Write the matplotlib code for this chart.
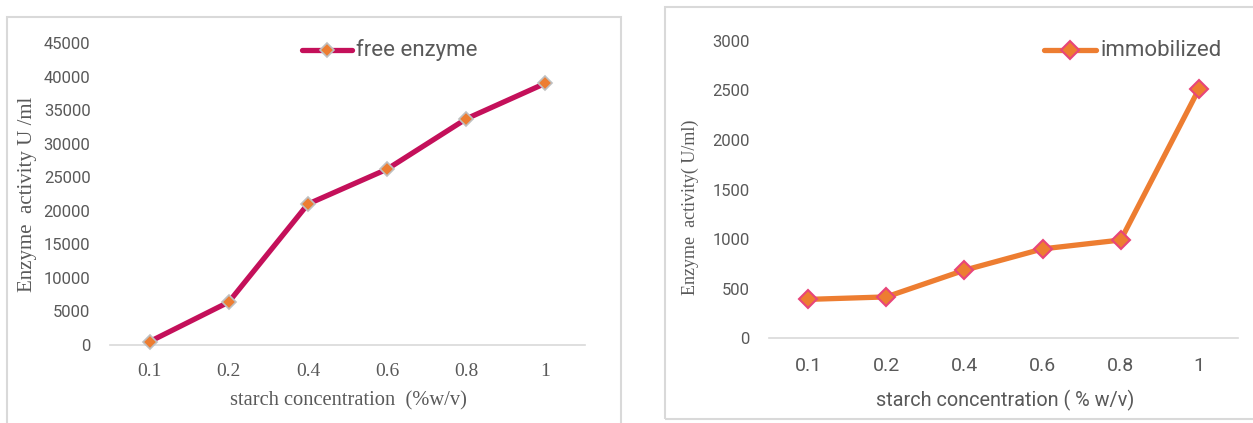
import matplotlib
matplotlib.use("Agg")
import matplotlib.pyplot as plt
from matplotlib.patches import Rectangle
from matplotlib.lines import Line2D

categories = ["0.1", "0.2", "0.4", "0.6", "0.8", "1"]
free_enzyme = [500, 6400, 21000, 26200, 33700, 39000]
immobilized = [390, 415, 685, 900, 990, 2515]
free_yticks = [0, 5000, 10000, 15000, 20000, 25000, 30000, 35000, 40000, 45000]
imm_yticks = [0, 500, 1000, 1500, 2000, 2500, 3000]

W, H = 1253, 423
fig = plt.figure(figsize=(W / 100, H / 100), dpi=100)

SANS = ["Liberation Sans Narrow", "Roboto", "DejaVu Sans"]
SERIF = ["Liberation Serif", "DejaVu Serif"]
GRAY = "#595959"


def px_axes(x0, y0, x1, y1):
    return fig.add_axes([x0 / W, 1 - y1 / H, (x1 - x0) / W, (y1 - y0) / H])


def frame(x0, y0, x1, y1):
    fig.patches.append(Rectangle((x0 / W, 1 - y1 / H), (x1 - x0) / W, (y1 - y0) / H,
                                 transform=fig.transFigure, fill=False,
                                 edgecolor="#d9d9d9", linewidth=1.5))


frame(7, 17, 621, 440)
frame(665, 7, 1260, 419)


def style(ax, yticks, top):
    x = list(range(len(categories)))
    ax.set_xlim(-0.5, len(categories) - 0.5)
    ax.set_ylim(0, top)
    ax.set_xticks(x)
    ax.set_yticks(yticks)
    for s in ["top", "right", "left"]:
        ax.spines[s].set_visible(False)
    ax.spines["bottom"].set_color("#d9d9d9")
    ax.spines["bottom"].set_linewidth(1.2)
    ax.tick_params(length=0, colors=GRAY)
    ax.set_facecolor("none")
    return x


# Left chart
ax1 = px_axes(110, 43, 585, 345)
x = style(ax1, free_yticks, 45000)
ax1.set_xticklabels(categories, fontfamily=SERIF, fontsize=14, color=GRAY)
ax1.set_yticklabels([str(v) for v in free_yticks], fontfamily=SANS, fontsize=12, color=GRAY)
ax1.tick_params(axis="x", pad=13)
ax1.tick_params(axis="y", pad=14)
ax1.plot(x, free_enzyme, color="#C4105A", linewidth=3.8, marker="D", markersize=7,
         markerfacecolor="#ED7D31", markeredgecolor="#BFBFBF", markeredgewidth=1.2,
         clip_on=False, zorder=3)
fig.text(28 / W, 1 - 194 / H, "Enzyme  activity U /ml", rotation=90, ha="center", va="center",
         fontfamily=SERIF, fontsize=15, color=GRAY)
fig.text(348 / W, 1 - 401 / H, "starch concentration  (%w/v)", ha="center", va="center",
         fontfamily=SERIF, fontsize=14.8, color=GRAY)
fig.lines.append(Line2D([302 / W, 352 / W], [1 - 50 / H] * 2, transform=fig.transFigure,
                        color="#C4105A", linewidth=3.8, solid_capstyle="round"))
fig.lines.append(Line2D([327 / W], [1 - 50 / H], transform=fig.transFigure, marker="D",
                        markersize=7, markerfacecolor="#ED7D31", markeredgecolor="#BFBFBF",
                        markeredgewidth=1.2, linestyle="none"))
fig.text(356 / W, 1 - 50 / H, "free enzyme", ha="left", va="center",
         fontfamily=SANS, fontsize=16, color=GRAY)

# Right chart
ax2 = px_axes(769, 41, 1238, 338)
x = style(ax2, imm_yticks, 3000)
ax2.set_xticklabels(categories, fontfamily=SANS, fontsize=14, color=GRAY)
ax2.set_yticklabels([str(v) for v in imm_yticks], fontfamily=SANS, fontsize=12, color=GRAY)
ax2.tick_params(axis="x", pad=14)
ax2.tick_params(axis="y", pad=14)
ax2.plot(x, immobilized, color="#ED7D31", linewidth=3.8, marker="D", markersize=9,
         markerfacecolor="#ED7D31", markeredgecolor="#E8457A", markeredgewidth=1.5,
         clip_on=False, zorder=3)
fig.text(690 / W, 1 - 207 / H, "Enzyme  activity( U/ml)", rotation=90, ha="center", va="center",
         fontfamily=SERIF, fontsize=13, color=GRAY)
fig.text(1005 / W, 1 - 400 / H, "starch concentration ( % w/v)", ha="center", va="center",
         fontfamily=SANS, fontsize=14.3, color=GRAY)
fig.lines.append(Line2D([1044 / W, 1096 / W], [1 - 50 / H] * 2, transform=fig.transFigure,
                        color="#ED7D31", linewidth=3.8, solid_capstyle="round"))
fig.lines.append(Line2D([1070 / W], [1 - 50 / H], transform=fig.transFigure, marker="D",
                        markersize=9, markerfacecolor="#ED7D31", markeredgecolor="#E8457A",
                        markeredgewidth=1.5, linestyle="none"))
fig.text(1101 / W, 1 - 50 / H, "immobilized", ha="left", va="center",
         fontfamily=SANS, fontsize=16, color=GRAY)

fig.savefig("out.png", dpi=100)
